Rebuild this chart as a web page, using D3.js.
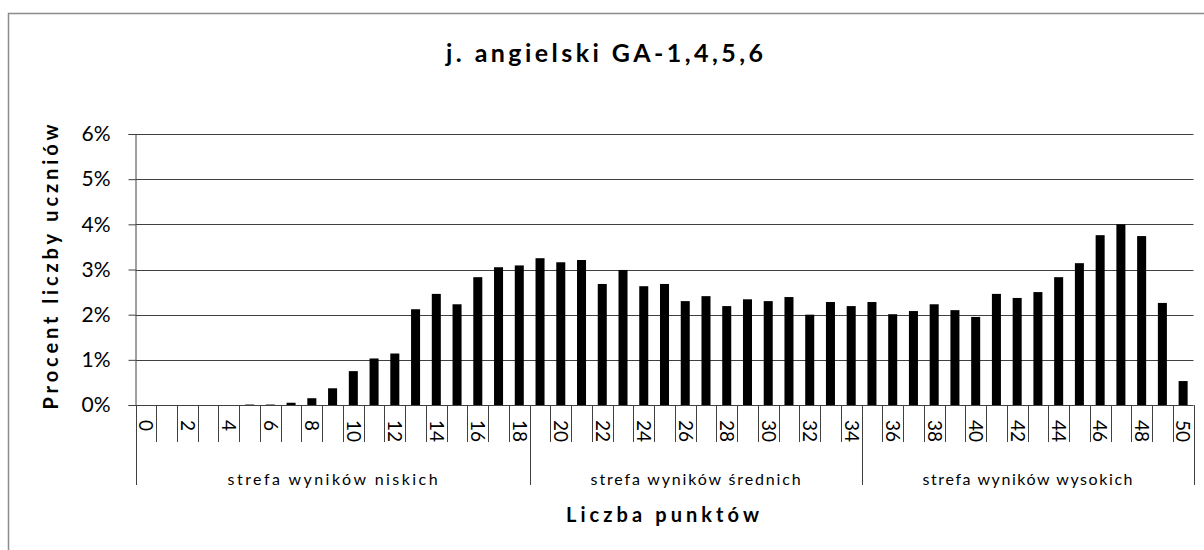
<!DOCTYPE html>
<html>
<head>
<meta charset="utf-8">
<script src="https://cdn.jsdelivr.net/npm/d3@7"></script>
<style>
  html, body { margin: 0; padding: 0; background: #fff; }
  svg { display: block; font-family: Lato, "Open Sans", sans-serif; }
</style>
</head>
<body>
<div id="chart"></div>
<script>
// punkty 0..50
const categories = d3.range(0, 51);
// procent liczby uczniów (%)
const values = [
  0, 0, 0, 0, 0, 0.01, 0.01, 0.05, 0.15, 0.37,
  0.75, 1.03, 1.14, 2.12, 2.46, 2.23, 2.83, 3.05, 3.09, 3.25,
  3.16, 3.21, 2.68, 2.99, 2.63, 2.68, 2.30, 2.41, 2.19, 2.34,
  2.30, 2.39, 2.00, 2.28, 2.19, 2.28, 2.01, 2.08, 2.23, 2.10,
  1.95, 2.46, 2.37, 2.50, 2.83, 3.14, 3.76, 4.00, 3.74, 2.26,
  0.53
];
const yTicks = [0, 1, 2, 3, 4, 5, 6];
const zoneLabels = ['strefa wyników niskich', 'strefa wyników średnich', 'strefa wyników wysokich'];
const zoneStarts = [0, 19, 35];
const zoneEnds = [18, 34, 50];

const chartTitle = 'j. angielski GA-1,4,5,6';
const yTitle = 'Procent liczby uczniów';
const xTitle = 'Liczba punktów';

const width = 1204;
const height = 550;
const plot = { left: 135.5, right: 1193.5, top: 134, bottom: 405 };

const svg = d3.select('#chart')
  .append('svg')
  .attr('width', width)
  .attr('height', height);

// ramka wykresu
svg.append('rect')
  .attr('x', 8.5)
  .attr('y', 13.5)
  .attr('width', 1210)
  .attr('height', 560)
  .attr('fill', 'none')
  .attr('stroke', '#8c8c8c')
  .attr('stroke-width', 1.5);

const x = d3.scaleBand()
  .domain(categories)
  .range([plot.left, plot.right])
  .padding(0);

const y = d3.scaleLinear()
  .domain([0, 6])
  .range([plot.bottom, plot.top]);

// linie siatki
svg.append('g')
  .selectAll('line')
  .data(yTicks.filter(d => d > 0))
  .join('line')
  .attr('x1', plot.left)
  .attr('x2', plot.right)
  .attr('y1', d => Math.round(y(d)) + 0.5)
  .attr('y2', d => Math.round(y(d)) + 0.5)
  .attr('stroke', '#404040')
  .attr('stroke-width', 1);

// słupki
const barW = x.bandwidth() / 2.3;
svg.append('g')
  .selectAll('rect')
  .data(categories)
  .join('rect')
  .attr('x', d => x(d) + (x.bandwidth() - barW) / 2)
  .attr('width', barW)
  .attr('y', (d, i) => y(values[i]))
  .attr('height', (d, i) => y(0) - y(values[i]))
  .attr('fill', '#000');

// oś Y
const yAxis = svg.append('g')
  .attr('transform', `translate(${plot.left},0)`)
  .call(d3.axisLeft(y).tickValues(yTicks).tickFormat(d => d + '%').tickSize(7).tickPadding(18));
yAxis.select('.domain').attr('stroke', '#404040');
yAxis.selectAll('.tick line').attr('stroke', '#404040');
yAxis.selectAll('.tick text')
  .attr('font-family', 'Lato, sans-serif')
  .attr('font-size', 21)
  .attr('fill', '#000');

// oś X
const xg = svg.append('g');
xg.append('line')
  .attr('x1', plot.left).attr('x2', plot.right)
  .attr('y1', plot.bottom + 0.5).attr('y2', plot.bottom + 0.5)
  .attr('stroke', '#404040');

const boundaries = categories.map(c => x(c)).concat([x.range()[1]]);
xg.selectAll('line.tick')
  .data(boundaries)
  .join('line')
  .attr('class', 'tick')
  .attr('x1', d => Math.round(d) + 0.5)
  .attr('x2', d => Math.round(d) + 0.5)
  .attr('y1', plot.bottom)
  .attr('y2', 442)
  .attr('stroke', '#404040');

const zoneEdges = zoneStarts.map(s => x(s)).concat([x.range()[1]]);
xg.selectAll('line.zone')
  .data(zoneEdges)
  .join('line')
  .attr('class', 'zone')
  .attr('x1', d => Math.round(d) + 0.5)
  .attr('x2', d => Math.round(d) + 0.5)
  .attr('y1', plot.bottom)
  .attr('y2', 485)
  .attr('stroke', '#404040');

xg.selectAll('text.cat')
  .data(categories.filter(c => c % 2 === 0))
  .join('text')
  .attr('class', 'cat')
  .attr('transform', d => `translate(${x(d) + x.bandwidth() / 2},420) rotate(90)`)
  .attr('dy', '0.35em')
  .attr('font-size', 19)
  .attr('fill', '#000')
  .text(d => d);

xg.selectAll('text.zone')
  .data(zoneLabels)
  .join('text')
  .attr('class', 'zone')
  .attr('x', (d, i) => (x(zoneStarts[i]) + x(zoneEnds[i]) + x.bandwidth()) / 2)
  .attr('y', 485)
  .attr('text-anchor', 'middle')
  .attr('font-size', 16)
  .attr('fill', '#000')
  .attr('textLength', 210)
  .text(d => d);

// tytuły
svg.append('text')
  .attr('x', 604.5)
  .attr('y', 62)
  .attr('text-anchor', 'middle')
  .attr('font-size', 25)
  .attr('font-weight', 'bold')
  .attr('textLength', 317)
  .text(chartTitle);

svg.append('text')
  .attr('transform', 'translate(58,267) rotate(-90)')
  .attr('text-anchor', 'middle')
  .attr('font-size', 20)
  .attr('font-weight', 'bold')
  .attr('textLength', 285)
  .text(yTitle);

svg.append('text')
  .attr('x', 662.5)
  .attr('y', 522)
  .attr('text-anchor', 'middle')
  .attr('font-size', 20)
  .attr('font-weight', 'bold')
  .attr('textLength', 193)
  .text(xTitle);
</script>
</body>
</html>
